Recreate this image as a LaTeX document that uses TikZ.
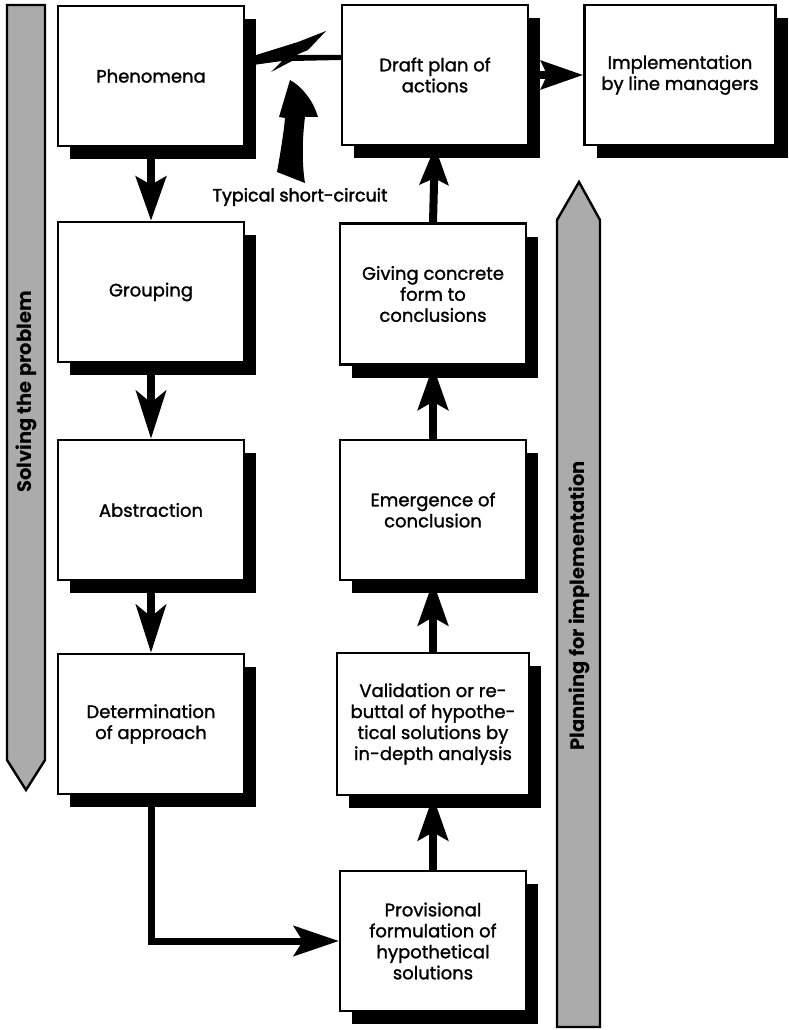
\documentclass[tikz,border=0pt]{standalone}
\usepackage{fontspec}
\setmainfont{Poppins}
\newfontfamily\boxfont[FakeBold=1.4]{Poppins}
\newfontfamily\notefont[FakeBold=2.2]{Poppins}
\usetikzlibrary{arrows.meta,shadows,calc}

\begin{document}
\begin{tikzpicture}[x=1pt,y=-1pt,
  box/.style={draw, line width=2.4pt, fill=white, minimum width=186pt,
    minimum height=140pt, align=center, inner sep=3pt,
    font=\boxfont\fontsize{18}{21}\selectfont,
    drop shadow={shadow xshift=12pt, shadow yshift=-13pt, fill=black, opacity=1}},
  flow/.style={line width=8pt, -{Stealth[length=44pt,width=30pt,inset=8pt]}},
  elbow/.style={line width=7pt, -{Stealth[length=45pt,width=30pt,inset=9pt]}},
  band/.style={draw, line width=2.4pt, fill=black!33, line join=miter},
  bandtext/.style={font=\bfseries\fontsize{19.5}{22}\selectfont, rotate=90},
  note/.style={font=\notefont\fontsize{17.5}{20}\selectfont}
]
\useasboundingbox (0,0) rectangle (788,1030);

% side bands
\draw[band] (7,5) -- (45,5) -- (45,760) -- (26,790) -- (7,760) -- cycle;
\draw[band] (557,1027) -- (557,220) -- (579,182) -- (600,220) -- (600,1027) -- cycle;
\node[bandtext] (solve) at (26,392) {Solving the problem};
\node[bandtext] (plan) at (579,606) {Planning for implementation};

% left column
\node[box] (phen) at (151,76) {Phenomena};
\node[box] (grp)  at (151,292) {Grouping};
\node[box] (abs)  at (151,510) {Abstraction};
\node[box] (det)  at (151,724) {Determination\\of approach};

% right column
\node[box] (draft) at (435,75) {Draft plan of\\actions};
\node[box, minimum width=191pt] (impl) at (680,75) {Implementation\\by line managers};
\node[box, minimum height=141pt] (giv) at (433,294) {Giving concrete\\form to\\conclusions};
\node[box] (emg)  at (433,510) {Emergence of\\conclusion};
\node[box, minimum width=192pt, minimum height=142pt] (val) at (433,724)
  {Validation or re-\\buttal of hypothe-\\tical solutions by\\in-depth analysis};
\node[box] (prov) at (433,941) {Provisional\\formulation of\\hypothetical\\solutions};

% flow arrows
\draw[flow] (phen.south) -- (grp.north);
\draw[flow, -{Stealth[length=48pt,width=30pt,inset=12pt]}] (grp.south) -- (abs.north);
\draw[flow, -{Stealth[length=48pt,width=30pt,inset=12pt]}] (abs.south) -- (det.north);
\draw[elbow] (det.south) |- (prov.west);
\draw[flow] (prov.north) -- (val.south);
\draw[flow] (val.north) -- (emg.south);
\draw[flow] (emg.north) -- (giv.south);
\draw[flow, -{Stealth[length=38pt,width=28pt,inset=6pt]}] (giv.north) -- (draft.south);
\draw[flow, -{Stealth[length=42pt,width=28pt,inset=6pt]}] (draft.east) -- (impl.west);

% short-circuit bolt between the first two boxes
\fill (253,56) -- (298,42) -- (326,31) -- (308,50) -- (296,55) -- (341,55)
  -- (341,60) -- (292,61) -- (271,72) -- (282,61) -- (253,65) -- cycle;

% curved arrow of the short-circuit
\fill (277,172) .. controls (281,150) and (284,130) .. (285,118)
  -- (279,117) -- (290,80)
  .. controls (304,88) and (314,103) .. (318,117)
  -- (305,117) .. controls (302,140) and (302,165) .. (305,183) -- cycle;
\node[note] (short) at (300,197) {Typical short-circuit};
\end{tikzpicture}
\end{document}
